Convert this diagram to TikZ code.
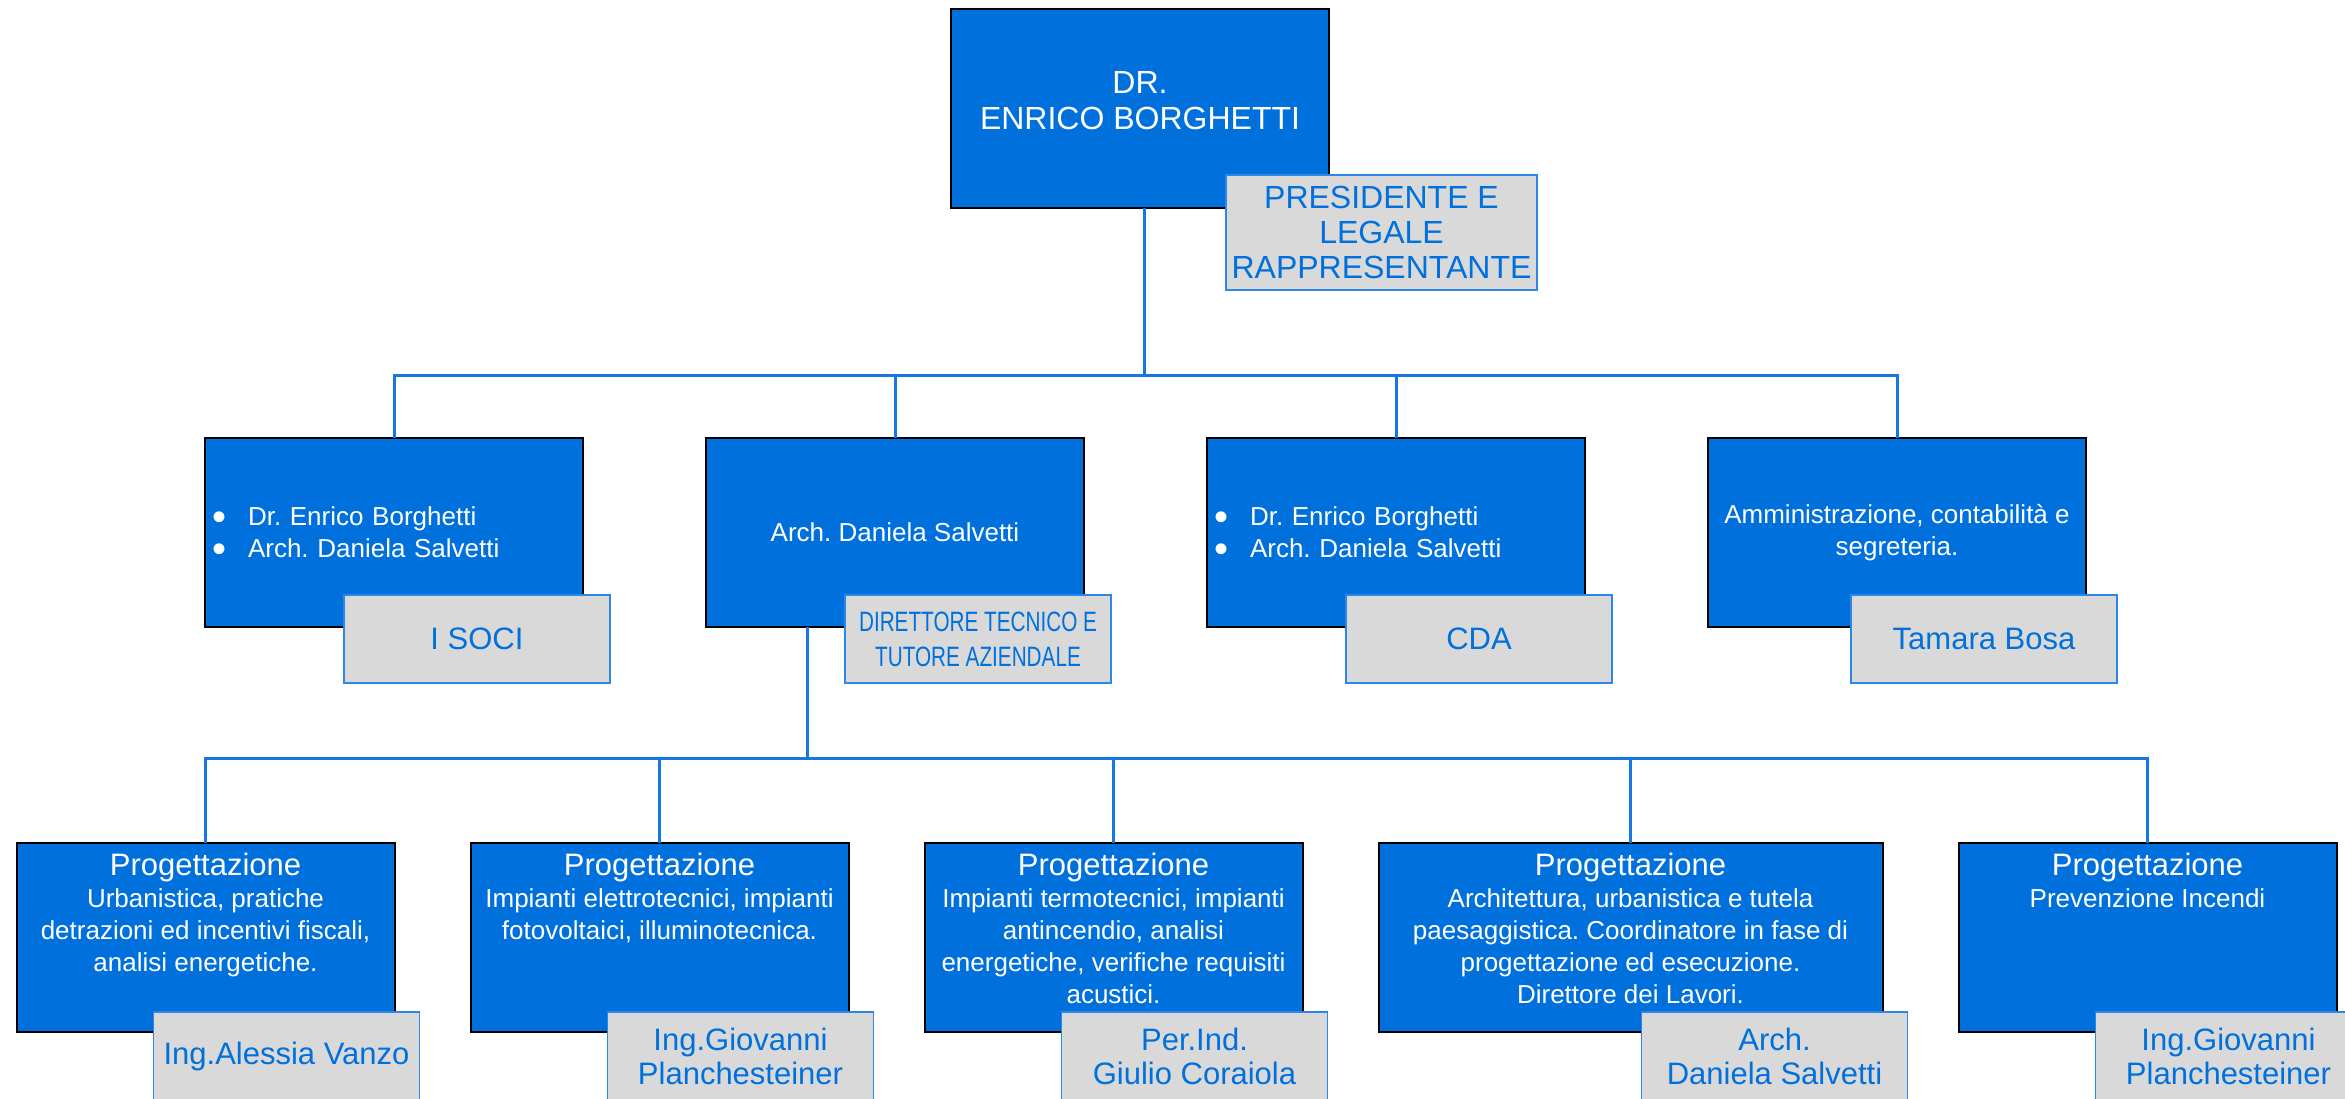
\documentclass[tikz,border=0pt]{standalone}
\usepackage{fontspec}
\setmainfont{Liberation Sans}
\newfontfamily\narrowfont[FakeStretch=0.74]{Liberation Sans}
\usetikzlibrary{positioning}
\definecolor{chartblue}{RGB}{0,112,221}
\definecolor{linkblue}{RGB}{22,118,226}
\definecolor{tagline}{RGB}{45,135,230}
\definecolor{taggray}{RGB}{217,217,217}
\tikzstyle{box}=[rectangle,outer sep=0pt,inner sep=7pt,align=center]
\tikzstyle{unit}=[box,draw=black,fill=chartblue,text=white,line width=2pt,minimum width=378pt,minimum height=189pt,font=\fontsize{26}{32}\selectfont]
\tikzstyle{wide}=[unit,minimum width=504pt]
\tikzstyle{members}=[unit,text width=364pt,align=left]
\tikzstyle{tag}=[box,draw=tagline,fill=taggray,text=chartblue,line width=1.5pt,minimum width=266pt,minimum height=88pt,inner sep=3pt,font=\fontsize{31}{34}\selectfont]
\tikzstyle{link}=[draw=linkblue,line width=3pt]
\newcommand{\deptbox}[2][364pt]{\parbox[c][169pt][t]{#1}{\centering\fontsize{31}{32}\selectfont Progettazione\\\fontsize{26}{32}\selectfont #2}}
\newcommand{\blt}{\makebox[36pt][l]{\raisebox{-5pt}[0pt][0pt]{\fontsize{40}{40}\selectfont•}}}

\begin{document}
\frenchspacing
\begin{tikzpicture}[x=1pt,y=1pt]
\clip (0,0) rectangle (2345,-1099);

\node (boss) [unit,minimum height=199pt,font=\fontsize{32}{36}\selectfont] at (1140,-108.5) {\parbox[c][183pt][c]{364pt}{\centering DR.\\ENRICO BORGHETTI\par\vspace*{16pt}}} ;
\node (boss-tag) [tag,anchor=north east,minimum width=311pt,minimum height=115pt,font=\fontsize{32}{35}\selectfont] at ([xshift=208pt,yshift=33pt]boss.south east) {PRESIDENTE E\\LEGALE\\RAPPRESENTANTE} ;

\node (soci) [members] at (394,-532.5) {\blt Dr. Enrico Borghetti\\\blt Arch. Daniela Salvetti} ;
\node (dt) [unit,right=123pt of soci] {Arch. Daniela Salvetti} ;
\node (cda) [members,right=123pt of dt] {\blt Dr. Enrico Borghetti\\\blt Arch. Daniela Salvetti} ;
\node (amm) [unit,right=123pt of cda] {Amministrazione, contabilità e\\segreteria.} ;

\node (soci-tag) [tag,anchor=north east] at ([xshift=27pt,yshift=32pt]soci.south east) {I SOCI} ;
\node (dt-tag) [tag,anchor=north east,font=\narrowfont\fontsize{28}{35}\selectfont] at ([xshift=27pt,yshift=32pt]dt.south east) {DIRETTORE TECNICO E\\TUTORE AZIENDALE} ;
\node (cda-tag) [tag,anchor=north east] at ([xshift=27pt,yshift=32pt]cda.south east) {CDA} ;
\node (amm-tag) [tag,anchor=north east] at ([xshift=31pt,yshift=32pt]amm.south east) {Tamara Bosa} ;

\foreach \n in {soci,dt,cda,amm}
  \draw [link] ([xshift=4pt]boss.south) -- ++(0,-167) -| (\n.north) ;

\node (urb) [unit] at (205.5,-937.5) {\deptbox{Urbanistica, pratiche\\detrazioni ed incentivi fiscali,\\analisi energetiche.}} ;
\node (elet) [unit,right=76pt of urb] {\deptbox{Impianti elettrotecnici, impianti\\fotovoltaici, illuminotecnica.}} ;
\node (term) [unit,right=76pt of elet] {\deptbox{Impianti termotecnici, impianti\\antincendio, analisi\\energetiche, verifiche requisiti\\acustici.}} ;
\node (arch) [wide,right=76pt of term] {\deptbox[490pt]{Architettura, urbanistica e tutela\\paesaggistica. Coordinatore in fase di\\progettazione ed esecuzione.\\Direttore dei Lavori.}} ;
\node (inc) [unit,right=76pt of arch] {\deptbox{Prevenzione Incendi}} ;

\node (urb-tag) [tag,anchor=north east] at ([xshift=25pt,yshift=20pt]urb.south east) {Ing.Alessia Vanzo} ;
\node (elet-tag) [tag,anchor=north east] at ([xshift=25pt,yshift=20pt]elet.south east) {Ing.Giovanni\\Planchesteiner} ;
\node (term-tag) [tag,anchor=north east] at ([xshift=25pt,yshift=20pt]term.south east) {Per.Ind.\\Giulio Coraiola} ;
\node (arch-tag) [tag,anchor=north east] at ([xshift=25pt,yshift=20pt]arch.south east) {Arch.\\Daniela Salvetti} ;
\node (inc-tag) [tag,anchor=north east] at ([xshift=25pt,yshift=20pt]inc.south east) {Ing.Giovanni\\Planchesteiner} ;

\foreach \n in {urb,elet,term,arch,inc}
  \draw [link] ([xshift=-88pt]dt.south) -- ++(0,-131) -| (\n.north) ;

\end{tikzpicture}
\end{document}
